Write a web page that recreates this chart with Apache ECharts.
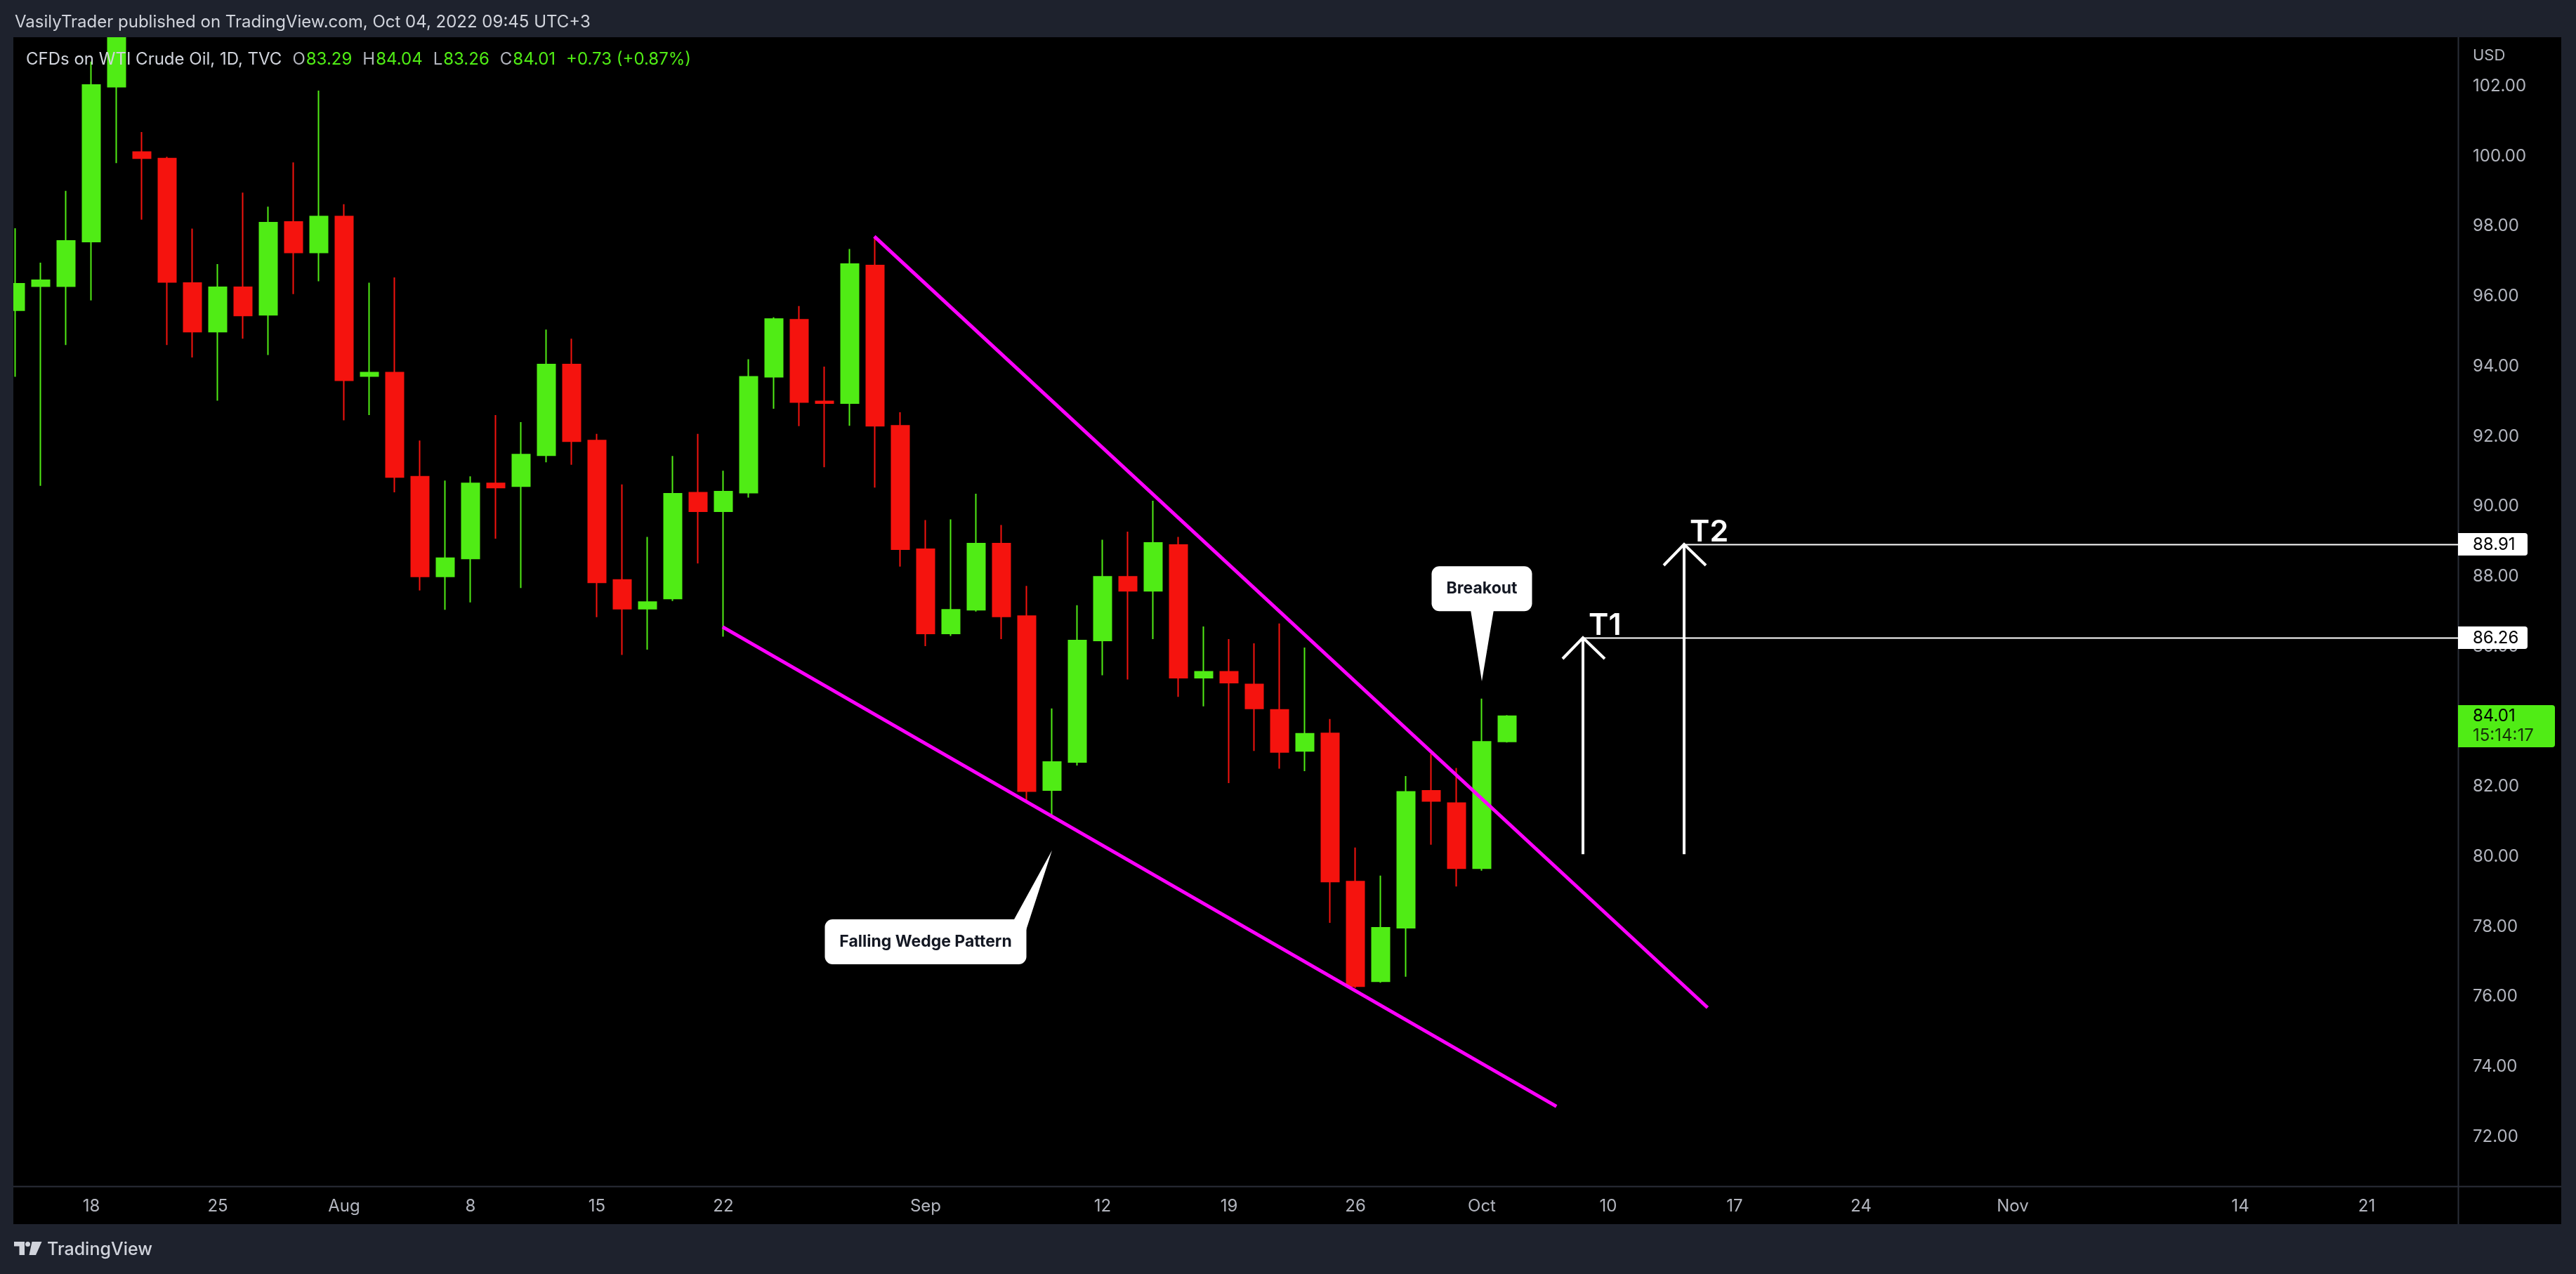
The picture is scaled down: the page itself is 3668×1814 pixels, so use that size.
<!DOCTYPE html>
<html>
<head>
<meta charset="utf-8">
<title>CFDs on WTI Crude Oil - Falling Wedge</title>
<script src="https://cdn.jsdelivr.net/npm/echarts@6.0.0/dist/echarts.min.js"></script>
<style>
html,body{margin:0;padding:0;background:#1e222d;overflow:hidden;}
#chart{width:3668px;height:1814px;}
</style>
</head>
<body>
<div id="chart"></div>
<script>
// ---------------- data ----------------
const dates = ['Jul 13','Jul 14','Jul 15','Jul 18','Jul 19','Jul 20','Jul 21','Jul 22','Jul 25','Jul 26','Jul 27','Jul 28','Jul 29',
  'Aug 1','Aug 2','Aug 3','Aug 4','Aug 5','Aug 8','Aug 9','Aug 10','Aug 11','Aug 12','Aug 15','Aug 16','Aug 17','Aug 18','Aug 19',
  'Aug 22','Aug 23','Aug 24','Aug 25','Aug 26','Aug 29','Aug 30','Aug 31','Sep 1','Sep 2','Sep 5','Sep 6','Sep 7','Sep 8','Sep 9',
  'Sep 12','Sep 13','Sep 14','Sep 15','Sep 16','Sep 19','Sep 20','Sep 21','Sep 22','Sep 23','Sep 26','Sep 27','Sep 28','Sep 29','Sep 30',
  'Oct 3','Oct 4'];
// session number of the first bar, counted from Jul 18 (session 0)
const firstSession = -3;

const opens  = [95.60,96.29,96.29,97.56,101.98,100.12,99.93,96.38,94.99,96.26,95.47,98.12,97.25,98.28,93.72,93.82,90.85,88.00,88.51,90.66,
  90.58,91.46,94.05,91.88,87.90,87.08,87.37,90.39,89.86,90.39,93.70,95.33,93.00,92.95,96.88,92.30,88.78,86.37,87.05,88.94,
  86.87,81.90,82.70,86.17,87.99,87.59,88.90,85.11,85.28,84.92,84.19,83.02,83.52,79.29,76.44,77.97,81.88,81.53,79.67,83.29];
const highs  = [97.94,96.96,99.01,102.70,104.90,100.69,99.98,97.93,96.92,98.96,98.56,99.82,101.87,98.63,96.39,96.54,91.88,90.74,90.86,92.61,
  92.41,95.05,94.79,92.07,90.63,89.13,91.44,92.07,91.02,94.20,95.40,95.72,93.99,97.35,97.70,92.69,89.61,89.63,90.36,89.47,
  87.73,84.23,87.18,89.05,89.28,90.16,89.13,86.57,86.21,86.09,86.66,85.97,83.93,80.26,79.46,82.30,82.94,82.53,84.51,84.04];
const lows   = [93.70,90.59,94.61,95.88,99.80,98.19,94.61,94.25,93.02,94.79,94.32,96.06,96.43,92.46,92.61,90.40,87.60,87.05,87.26,89.08,
  87.67,91.26,91.19,86.84,85.76,85.91,87.30,88.37,86.28,90.25,92.79,92.29,91.12,92.30,90.54,88.28,86.01,86.30,87.00,86.21,
  81.56,81.18,82.60,85.18,85.06,86.21,84.56,84.29,82.10,83.02,82.51,82.44,78.11,76.25,76.40,76.57,80.34,79.15,79.60,83.26];
const closes = [96.36,96.46,97.58,102.03,104.20,99.94,96.41,94.99,96.26,95.45,98.10,97.25,98.28,93.60,93.82,90.84,88.00,88.52,90.66,90.54,
  91.48,94.05,91.86,87.83,87.08,87.27,90.36,89.86,90.42,93.70,95.35,92.98,92.95,96.92,92.30,88.78,86.37,87.05,88.94,86.86,
  81.87,82.70,86.17,87.99,87.59,88.96,85.11,85.28,84.97,84.23,82.99,83.51,79.29,76.30,77.97,81.85,81.59,79.67,83.28,84.01];

// x-axis ticks (session numbers) and their labels
const tickSessions = [0,5,10,15,20,25,33,40,45,50,55,60,65,70,76,85,90];
const tickLabels   = ['18','25','Aug','8','15','22','Sep','12','19','26','Oct','10','17','24','Nov','14','21'];
const priceTicks   = [72,74,76,78,80,82,84,86,88,90,92,94,96,98,100,102];

// falling wedge trend lines (session, price)
const wedgeUpperX = [30.97, 63.93], wedgeUpperY = [97.71, 75.69];
const wedgeLowerX = [24.97, 57.95], wedgeLowerY = [86.56, 72.87];

// targets
const targetNames   = ['T1', 'T2'];
const targetSession = [59, 63];
const targetPrice   = [86.26, 88.91];
const targetBase    = [80.07, 80.07];

// callouts: box centre (session, price) and pointer tip (session, price)
const calloutText = ['Falling Wedge Pattern', 'Breakout'];
const calloutX    = [33.0, 55.0];
const calloutY    = [77.57, 87.65];
const calloutTipX = [38.0, 55.0];
const calloutTipY = [80.18, 85.01];

const legendTitle  = 'CFDs on WTI Crude Oil, 1D, TVC';
const legendKeys   = ['O', 'H', 'L', 'C'];
const legendChange = '+0.73 (+0.87%)';
const countdown    = '15:14:17';
const headerText   = 'VasilyTrader published on TradingView.com, Oct 04, 2022 09:45 UTC+3';

// ---------------- styling ----------------
const UP = '#50ec15', DOWN = '#f5130e', MAGENTA = '#ff00ff';
const FONT = 'Inter, "Noto Sans", sans-serif';
const AXIS_TXT = '#b2b5be';
const FRAME = '#1e222d';

const candleData = dates.map((d, k) => [k + firstSession, opens[k], closes[k], lows[k], highs[k]]);
const last = closes.length - 1;

const chart = echarts.init(document.getElementById('chart'), null, {renderer: 'canvas'});

// measure text helper
const mctx = document.createElement('canvas').getContext('2d');
function tw(text, font) { mctx.font = font; return mctx.measureText(text).width; }

// legend pieces laid out left to right
const legendFont = '24px ' + FONT;
const legendItems = [];
let lx = 37;
legendItems.push({type: 'text', x: lx, y: 85, z: 51, silent: true, style: {text: legendTitle, fill: '#d1d4dc', font: legendFont, verticalAlign: 'middle'}});
lx += tw(legendTitle, legendFont) + 15;
const legendVals = [opens[last], highs[last], lows[last], closes[last]];
legendKeys.forEach((key, k) => {
  legendItems.push({type: 'text', x: lx, y: 85, z: 51, silent: true, style: {text: key, fill: '#b2b5be', font: legendFont, verticalAlign: 'middle'}});
  lx += tw(key, legendFont) + 1;
  const v = legendVals[k].toFixed(2);
  legendItems.push({type: 'text', x: lx, y: 85, z: 51, silent: true, style: {text: v, fill: UP, font: legendFont, verticalAlign: 'middle'}});
  lx += tw(v, legendFont) + 15;
});
legendItems.push({type: 'text', x: lx, y: 85, z: 51, silent: true, style: {text: legendChange, fill: UP, font: legendFont, verticalAlign: 'middle'}});

const option = {
  animation: false,
  backgroundColor: FRAME,
  textStyle: {fontFamily: FONT},
  grid: {left: 19, top: 53, width: 3481, height: 1636, containLabel: false, outerBoundsMode: 'none'},
  xAxis: {
    type: 'value',
    min: (19 - 130) / 36,
    max: (3500 - 130) / 36,
    axisLine: {show: false},
    axisTick: {show: false},
    splitLine: {show: false},
    axisLabel: {
      customValues: tickSessions,
      formatter: v => tickLabels[tickSessions.indexOf(Math.round(v))] || '',
      color: AXIS_TXT, fontSize: 24, fontFamily: FONT,
      margin: 29, verticalAlign: 'middle'
    }
  },
  yAxis: {
    type: 'value',
    position: 'right',
    min: 70.591,
    max: 103.396,
    axisLine: {show: false},
    axisTick: {show: false},
    splitLine: {show: false},
    axisLabel: {
      customValues: priceTicks,
      formatter: v => v.toFixed(2),
      color: AXIS_TXT, fontSize: 24, fontFamily: FONT,
      margin: 21, align: 'left'
    }
  },
  graphic: [
    {type: 'rect', z: -10, silent: true, shape: {x: 19, y: 53, width: 3628, height: 1690}, style: {fill: '#000000'}},
    {type: 'line', z: -9, silent: true, shape: {x1: 3500.5, y1: 53, x2: 3500.5, y2: 1743}, style: {stroke: '#2a2e39', lineWidth: 2}},
    {type: 'line', z: -9, silent: true, shape: {x1: 19, y1: 1689.5, x2: 3647, y2: 1689.5}, style: {stroke: '#2a2e39', lineWidth: 2}},
    // frame bands that hide bars running past the pane edges
    {type: 'rect', z: 50, silent: true, shape: {x: 0, y: 0, width: 3668, height: 53}, style: {fill: FRAME}},
    {type: 'rect', z: 50, silent: true, shape: {x: 0, y: 53, width: 19, height: 1690}, style: {fill: FRAME}},
    {type: 'text', x: 21, y: 32, z: 51, silent: true, style: {text: headerText, fill: '#d1d4dc', font: '24px ' + FONT, verticalAlign: 'middle'}},
    {type: 'text', x: 3521, y: 79, z: 51, silent: true, style: {text: 'USD', fill: AXIS_TXT, font: '22px ' + FONT, verticalAlign: 'middle'}},
    // TradingView logo
    {type: 'polygon', silent: true, shape: {points: [[20,1768],[35,1768],[35,1787],[27.5,1787],[27.5,1774.5],[20,1774.5]]}, style: {fill: '#d1d4dc'}},
    {type: 'circle', silent: true, shape: {cx: 39.5, cy: 1771.5, r: 3.5}, style: {fill: '#d1d4dc'}},
    {type: 'polygon', silent: true, shape: {points: [[45.5,1768],[59.5,1768],[51,1787],[41.5,1787]]}, style: {fill: '#d1d4dc'}},
    {type: 'text', x: 67, y: 1779, silent: true, style: {text: 'TradingView', fill: '#d1d4dc', font: '500 25px ' + FONT, verticalAlign: 'middle'}}
  ].concat(legendItems),
  series: [
    {
      type: 'candlestick',
      name: 'WTI',
      data: candleData,
      encode: {x: 0, y: [1, 2, 3, 4]},
      barWidth: 26,
      clip: true,
      silent: true,
      z: 2,
      itemStyle: {color: UP, color0: DOWN, borderColor: UP, borderColor0: DOWN, borderWidth: 2}
    },
    {
      type: 'line', name: 'wedge upper', silent: true, symbol: 'none', z: 4,
      data: wedgeUpperX.map((x, k) => [x, wedgeUpperY[k]]),
      lineStyle: {color: MAGENTA, width: 5}
    },
    {
      type: 'line', name: 'wedge lower', silent: true, symbol: 'none', z: 4,
      data: wedgeLowerX.map((x, k) => [x, wedgeLowerY[k]]),
      lineStyle: {color: MAGENTA, width: 5}
    },
    {
      type: 'custom', name: 'targets', silent: true, clip: false, z: 6,
      data: targetSession.map((x, k) => [x, targetPrice[k], targetBase[k]]),
      encode: {x: 0, y: 1},
      renderItem: function (params, api) {
        const k = params.dataIndex;
        const tip = api.coord([api.value(0), api.value(1)]);
        const base = api.coord([api.value(0), api.value(2)]);
        const cs = params.coordSys;
        const right = cs.x + cs.width;
        const tx = Math.round(tip[0]), ty = Math.round(tip[1]);
        return {
          type: 'group',
          children: [
            {type: 'line', shape: {x1: tx, y1: base[1], x2: tx, y2: ty}, style: {stroke: '#ffffff', lineWidth: 4}},
            {type: 'polyline', shape: {points: [[tx - 29, ty + 30], [tx, ty], [tx + 31, ty + 30]]}, style: {stroke: '#ffffff', lineWidth: 4, fill: 'none'}},
            {type: 'line', shape: {x1: tx, y1: ty + 0.5, x2: right, y2: ty + 0.5}, style: {stroke: '#ffffff', lineWidth: 2}},
            {type: 'text', style: {text: targetNames[k], x: tx + 8, y: ty - 17, fill: '#ffffff', font: '600 43px ' + FONT, verticalAlign: 'middle'}},
            {type: 'rect', shape: {x: right, y: ty - 16, width: 99, height: 32, r: [0, 4, 4, 0]}, style: {fill: '#ffffff'}},
            {type: 'text', style: {text: targetPrice[k].toFixed(2), x: right + 21, y: ty + 0.5, fill: '#000000', font: '24px ' + FONT, verticalAlign: 'middle'}}
          ]
        };
      }
    },
    {
      type: 'custom', name: 'callouts', silent: true, clip: false, z: 7,
      data: calloutText.map((t, k) => [calloutX[k], calloutY[k], calloutTipX[k], calloutTipY[k]]),
      encode: {x: 0, y: 1},
      renderItem: function (params, api) {
        const k = params.dataIndex;
        const c = api.coord([api.value(0), api.value(1)]);
        const tip = api.coord([api.value(2), api.value(3)]);
        const font = '700 23px ' + FONT;
        const w = Math.round(tw(calloutText[k], font) + 42);
        const h = 64;
        const left = c[0] - w / 2, top = c[1] - h / 2, right = left + w, bottom = top + h;
        let tail;
        if (tip[1] > bottom) {
          tail = [[tip[0] - 16, bottom - 2], [tip[0] + 17, bottom - 2], tip];
        } else {
          tail = [tip, [right - 18, top + 1], [right - 8, top + 8], [right - 1, top + 17]];
        }
        return {
          type: 'group',
          children: [
            {type: 'rect', shape: {x: left, y: top, width: w, height: h, r: 11}, style: {fill: '#ffffff'}},
            {type: 'polygon', shape: {points: tail}, style: {fill: '#ffffff'}},
            {type: 'text', style: {text: calloutText[k], x: c[0], y: c[1], fill: '#131722', font: font, align: 'center', verticalAlign: 'middle'}}
          ]
        };
      }
    },
    {
      type: 'custom', name: 'last price', silent: true, clip: false, z: 8,
      data: [[last + firstSession, closes[last]]],
      encode: {x: 0, y: 1},
      renderItem: function (params, api) {
        const p = api.coord([api.value(0), api.value(1)]);
        const cs = params.coordSys;
        const right = cs.x + cs.width;
        const y = Math.round(p[1]);
        return {
          type: 'group',
          children: [
            {type: 'rect', shape: {x: right, y: y - 16, width: 138, height: 60, r: [0, 4, 4, 0]}, style: {fill: UP}},
            {type: 'text', style: {text: closes[last].toFixed(2), x: right + 21, y: y, fill: '#000000', font: '24px ' + FONT, verticalAlign: 'middle'}},
            {type: 'text', style: {text: countdown, x: right + 21, y: y + 28, fill: '#173409', font: '24px ' + FONT, verticalAlign: 'middle'}}
          ]
        };
      }
    }
  ]
};
chart.setOption(option);
</script>
</body>
</html>
